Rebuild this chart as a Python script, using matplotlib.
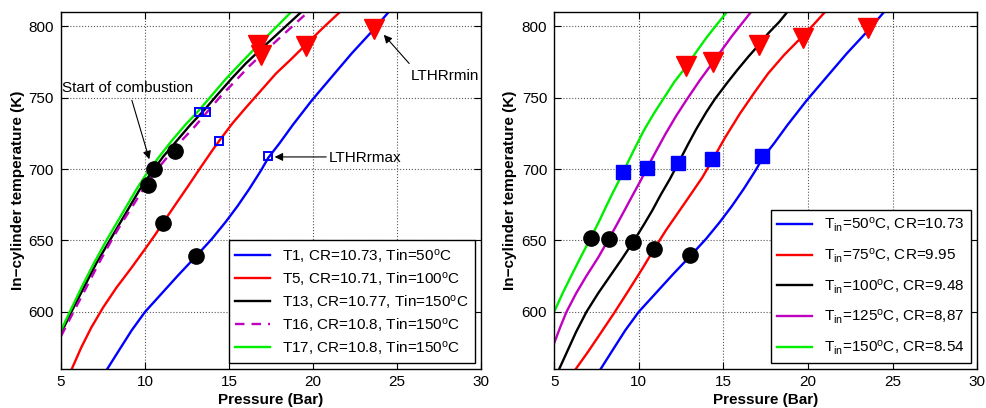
import numpy as np
import matplotlib
matplotlib.use('Agg')
import matplotlib.pyplot as plt

plt.rcParams['font.family'] = ['Liberation Sans', 'DejaVu Sans']
plt.rcParams['mathtext.fontset'] = 'custom'
plt.rcParams['mathtext.rm'] = 'Liberation Sans'
plt.rcParams['mathtext.it'] = 'Liberation Sans'
plt.rcParams['font.size'] = 11

# ---- left panel: test points (pressure in bar, temperature in K) ----
t1_p = [7.75, 8.5, 9.2, 10.0, 11.0, 12.0, 13.04, 13.97, 14.8, 15.5, 16.2, 16.9, 17.34,
        18.0, 18.8, 19.92, 21.0, 22.3, 23.63, 24.5]
t1_T = [560, 574, 587, 600, 613, 626, 639, 651, 663, 674, 686, 699, 708,
        718, 731, 748, 763, 781, 798, 810]
t5_p = [5.64, 6.2, 6.8, 7.5, 8.3, 9.2, 10.0, 10.6, 11.05, 11.8, 12.5, 13.3, 14.0, 14.43,
        15.2, 16.0, 16.9, 17.8, 18.7, 19.56, 20.6, 21.6]
t5_T = [560, 575, 589, 603, 617, 631, 644, 654, 662, 675, 687, 701, 713, 720,
        732, 743, 755, 767, 777, 787, 799, 810]
t13_p = [5.0, 5.7, 6.4, 7.1, 7.9, 8.5, 9.1, 9.7, 10.4, 11.1, 11.9, 12.7, 13.5, 14.3,
         15.2, 16.0, 16.9, 18.1, 19.3]
t13_T = [585, 602, 618, 634, 650, 662, 674, 686, 698, 709, 720, 731, 741, 752,
         764, 774, 784, 797, 810]
t16_p = [5.0, 5.7, 6.5, 7.2, 8.0, 8.6, 9.2, 9.9, 10.6, 11.3, 12.1, 12.9, 13.7, 14.5,
         15.4, 16.2, 17.1, 18.4, 19.7]
t16_T = [583, 599, 617, 633, 650, 662, 673, 686, 698, 708, 719, 729, 740, 751,
         762, 772, 782, 796, 810]
t17_p = [5.0, 5.6, 6.3, 7.0, 7.7, 8.3, 8.9, 9.5, 10.1, 10.8, 11.6, 12.4, 13.2, 14.0,
         14.8, 15.6, 16.5, 17.6, 18.7]
t17_T = [587, 602, 619, 635, 650, 662, 674, 686, 697, 708, 720, 731, 741, 752,
         763, 773, 784, 797, 810]
left_labels = ['T1, CR=10.73, Tin=50$^{\\rm o}$C',
               'T5, CR=10.71, Tin=100$^{\\rm o}$C',
               'T13, CR=10.77, Tin=150$^{\\rm o}$C',
               'T16, CR=10.8, Tin=150$^{\\rm o}$C',
               'T17, CR=10.8, Tin=150$^{\\rm o}$C']

soc_p = [13.04, 11.05, 10.16, 10.55, 11.79]
soc_T = [639, 662, 689, 700, 713]
lmax_p = [17.34, 14.43, 13.23, 13.63]
lmax_T = [709, 720, 740, 740]
lmin_p = [23.63, 19.56, 16.7, 16.9]
lmin_T = [798, 786, 787, 780]

# ---- right panel: intake temperature sweep ----
r50_p = t1_p
r50_T = t1_T
r75_p = [6.28, 7.0, 7.8, 8.59, 9.4, 10.2, 10.91, 11.6, 12.3, 13.0, 13.75, 14.34, 15.1,
         15.99, 16.8, 17.65, 18.6, 19.68, 20.4, 21.08]
r75_T = [560, 572, 586, 600, 615, 630, 644, 657, 669, 681, 694, 706, 722,
         739, 753, 767, 780, 793, 802, 811]
r100_p = [5.3, 5.8, 6.3, 6.91, 7.6, 8.3, 9.0, 9.67, 10.3, 10.8, 11.3, 11.84, 12.33, 12.9,
          13.4, 14.0, 14.5, 15.2, 15.8, 16.5, 17.1, 17.65, 18.3, 18.85]
r100_T = [560, 573, 586, 600, 613, 625, 637, 649, 661, 671, 682, 693, 704, 717,
          728, 740, 749, 760, 769, 779, 787, 795, 803, 811]
r125_p = [5.0, 5.35, 5.73, 6.3, 6.9, 7.6, 8.23, 8.7, 9.2, 9.7, 10.16, 10.5, 11.0, 11.6,
          12.2, 12.8, 13.6, 14.4, 15.5, 16.7]
r125_T = [578, 589, 600, 613, 625, 638, 651, 661, 672, 683, 693, 701, 712, 725,
          737, 748, 762, 775, 793, 811]
r150_p = [5.0, 5.5, 6.0, 6.6, 7.17, 7.6, 8.0, 8.45, 8.88, 9.08, 9.7, 10.3, 10.9, 11.5,
          12.1, 12.82, 13.4, 14.0, 14.6, 15.28]
r150_T = [600, 613, 625, 639, 652, 662, 672, 683, 693, 698, 713, 727, 739, 750,
          761, 772, 782, 792, 801, 811]
right_labels = ['T$_{\\rm in}$=50$^{\\rm o}$C, CR=10.73',
                'T$_{\\rm in}$=75$^{\\rm o}$C, CR=9.95',
                'T$_{\\rm in}$=100$^{\\rm o}$C, CR=9.48',
                'T$_{\\rm in}$=125$^{\\rm o}$C, CR=8,87',
                'T$_{\\rm in}$=150$^{\\rm o}$C, CR=8.54']

rsoc_p = [13.02, 10.91, 9.67, 8.23, 7.17]
rsoc_T = [639.5, 644, 649, 651, 652]
rmax_p = [17.3, 14.34, 12.33, 10.5, 9.08]
rmax_T = [709, 707, 704, 701, 698]
rmin_p = [23.55, 19.68, 17.1, 14.4, 12.82]
rmin_T = [799, 792, 787, 775, 772]

xticks = [5, 10, 15, 20, 25, 30]
yticks = [600, 650, 700, 750, 800]


def style_axes(ax):
    ax.set_xlim(5, 30)
    ax.set_ylim(560, 810)
    ax.set_xticks(xticks)
    ax.set_yticks(yticks)
    ax.grid(True, linestyle=':', color='0.35', linewidth=0.8)
    ax.tick_params(direction='in', top=True, right=True, length=5, width=0.8)
    ax.tick_params(axis='y', pad=5)
    ax.tick_params(axis='x', pad=4)
    for s in ax.spines.values():
        s.set_linewidth(1.0)
    ax.set_xlabel('Pressure (Bar)', fontweight='bold')
    ax.set_ylabel('In\u2212cylinder temperature (K)', fontweight='bold')
    ax.xaxis.set_label_coords(0.5, -0.068)


fig = plt.figure(figsize=(9.86, 4.08), dpi=100)
ax1 = fig.add_axes([0.0619, 0.0956, 0.426, 0.875])
ax2 = fig.add_axes([0.562, 0.0956, 0.429, 0.875])

lw = 1.7
ax1.plot(t1_p, t1_T, color='b', lw=lw, label=left_labels[0])
ax1.plot(t5_p, t5_T, color='r', lw=lw, label=left_labels[1])
ax1.plot(t13_p, t13_T, color='k', lw=lw, label=left_labels[2])
ax1.plot(t16_p, t16_T, color='m', lw=lw, ls='--', dashes=(4, 3), label=left_labels[3])
ax1.plot(t17_p, t17_T, color='#00ee00', lw=lw, label=left_labels[4])
leg1 = ax1.legend(loc='lower right', fancybox=False, edgecolor='k',
                  framealpha=1, handlelength=2.3, borderaxespad=0.4,
                  labelspacing=0.33)
leg1.get_frame().set_linewidth(1.0)

ax1.plot(soc_p, soc_T, 'o', color='k', ms=11, ls='none')
ax1.plot(lmax_p, lmax_T, 's', mfc='none', mec='b', mew=1.4, ms=6, ls='none')
ax1.plot(lmin_p, lmin_T, 'v', color='r', ms=15, ls='none')

arrow = dict(arrowstyle='-|>', color='k', lw=0.8, mutation_scale=12)
ax1.text(5.06, 757, 'Start of combustion', ha='left', va='center')
ax1.annotate('', xy=(10.3, 705), xytext=(9.17, 750), arrowprops=arrow)
ax1.text(20.95, 707.5, 'LTHRrmax', ha='left', va='center')
ax1.annotate('', xy=(17.55, 708.5), xytext=(20.95, 708.5), arrowprops=arrow)
ax1.text(25.83, 765, 'LTHRrmin', ha='left', va='center')
ax1.annotate('', xy=(24.1, 795.5), xytext=(25.83, 772.5), arrowprops=arrow)
style_axes(ax1)
ax1.yaxis.set_label_coords(-0.085, 0.5)

ax2.plot(r50_p, r50_T, color='b', lw=lw, label=right_labels[0])
ax2.plot(r75_p, r75_T, color='r', lw=lw, label=right_labels[1])
ax2.plot(r100_p, r100_T, color='k', lw=lw, label=right_labels[2])
ax2.plot(r125_p, r125_T, color='m', lw=lw, label=right_labels[3])
ax2.plot(r150_p, r150_T, color='#00ee00', lw=lw, label=right_labels[4])
leg2 = ax2.legend(loc='lower right', fancybox=False, edgecolor='k',
                  framealpha=1, handlelength=2.3, borderaxespad=0.4,
                  labelspacing=0.8)
leg2.get_frame().set_linewidth(1.0)

ax2.plot(rsoc_p, rsoc_T, 'o', color='k', ms=11, ls='none')
ax2.plot(rmax_p, rmax_T, 's', color='b', ms=9.5, ls='none')
ax2.plot(rmin_p, rmin_T, 'v', color='r', ms=15, ls='none')
style_axes(ax2)
ax2.yaxis.set_label_coords(-0.087, 0.5)

fig.savefig('out.png', dpi=100)
